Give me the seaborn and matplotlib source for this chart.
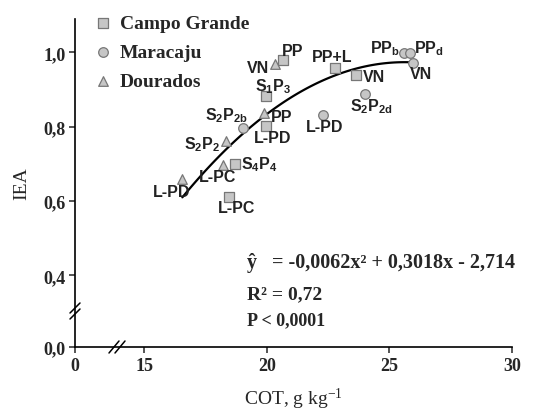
import numpy as np
import pandas as pd
import matplotlib
matplotlib.use("Agg")
import matplotlib.pyplot as plt
import seaborn as sns

# values (COT in g/kg, IEA)
sites = ["Campo Grande", "Maracaju", "Dourados"]

cg_names = ["PP", "S$\\mathregular{_1}$P$\\mathregular{_3}$", "L-PD",
            "S$\\mathregular{_4}$P$\\mathregular{_4}$", "L-PC", "PP+L", "VN"]
cg_cot = [20.64, 19.95, 19.95, 18.70, 18.46, 22.77, 23.65]
cg_iea = [0.980, 0.882, 0.801, 0.700, 0.612, 0.959, 0.939]

mj_names = ["S$\\mathregular{_2}$P$\\mathregular{_{2b}}$", "L-PD",
            "S$\\mathregular{_2}$P$\\mathregular{_{2d}}$",
            "PP$\\mathregular{_b}$", "PP$\\mathregular{_d}$", "VN"]
mj_cot = [19.03, 22.27, 23.99, 25.58, 25.82, 25.96]
mj_iea = [0.797, 0.832, 0.888, 0.998, 0.998, 0.972]

do_names = ["VN", "PP", "S$\\mathregular{_2}$P$\\mathregular{_2}$", "L-PC", "L-PD"]
do_cot = [20.35, 19.89, 18.32, 18.22, 16.55]
do_iea = [0.968, 0.836, 0.762, 0.696, 0.659]

x_ticks = [0, 15, 20, 25, 30]
x_ticklabels = ["0", "15", "20", "25", "30"]
y_ticks = [0.0, 0.4, 0.6, 0.8, 1.0]
y_ticklabels = ["0,0", "0,4", "0,6", "0,8", "1,0"]

eq_lines = ["\u0177   = -0,0062x\u00b2 + 0,3018x - 2,714", "R\u00b2 = 0,72", "P < 0,0001"]

# label placement (pixel offsets, alignment)
cg_pos = [(10, 9, "center"), (7, 11, "center"), (7, -11, "center"), (6, 0, "left"),
          (7, -11, "center"), (-3, 11, "center"), (7, -1, "left")]
mj_pos = [(-17, 13, "center"), (2, -12, "center"), (7, -12, "center"),
          (-4, 6, "right"), (4, 6, "left"), (8, -11, "center")]
do_pos = [(-6, -3, "right"), (7, -3, "left"), (-6, -3, "right"),
          (-6, -11, "center"), (-11, -12, "center")]

df = pd.concat([
    pd.DataFrame({"site": sites[0], "cot": cg_cot, "iea": cg_iea, "name": cg_names}),
    pd.DataFrame({"site": sites[1], "cot": mj_cot, "iea": mj_iea, "name": mj_names}),
    pd.DataFrame({"site": sites[2], "cot": do_cot, "iea": do_iea, "name": do_names}),
], ignore_index=True)
pos = cg_pos + mj_pos + do_pos

sns.set_style("ticks")
plt.rcParams["font.family"] = ["Liberation Serif", "DejaVu Serif"]

# broken axes: squeeze 0-15 on x and 0-0.4 on y
kx = 2.83 / 15
ky = 0.193 / 0.4


def fx(v):
    v = np.asarray(v, dtype=float)
    return np.where(v >= 15, v, 15 - (15 - v) * kx)


def fx_inv(v):
    v = np.asarray(v, dtype=float)
    return np.where(v >= 15, v, 15 - (15 - v) / kx)


def fy(v):
    v = np.asarray(v, dtype=float)
    return np.where(v >= 0.4, v, 0.4 - (0.4 - v) * ky)


def fy_inv(v):
    v = np.asarray(v, dtype=float)
    return np.where(v >= 0.4, v, 0.4 - (0.4 - v) / ky)


fig = plt.figure(figsize=(5.4, 4.14), dpi=100)
ax = fig.add_axes([75 / 540, 66 / 414, 437 / 540, 328 / 414])
ax.set_xscale("function", functions=(fx, fx_inv))
ax.set_yscale("function", functions=(fy, fy_inv))

sns.regplot(data=df, x="cot", y="iea", order=2, ci=None, scatter=False,
            truncate=True, color="black", line_kws=dict(lw=1.6), ax=ax)

markers = {"Campo Grande": "s", "Maracaju": "o", "Dourados": "^"}
for s in sites:
    sub = df[df["site"] == s]
    sns.scatterplot(data=sub, x="cot", y="iea", marker=markers[s], s=48,
                    color="#c6c6c6", edgecolor="#777777", linewidth=0.9,
                    label=s, ax=ax, zorder=3)

for (_, r), (dx, dy, ha) in zip(df.iterrows(), pos):
    ax.annotate(r["name"], (r["cot"], r["iea"]), xytext=(dx, dy),
                textcoords="offset pixels", ha=ha, va="center",
                fontsize=11.5, fontweight="bold", color="#222222",
                family=["Liberation Sans", "DejaVu Sans"])

ax.set_xlim(0, 30)
ax.set_ylim(0, 1.09)
ax.set_xticks(x_ticks)
ax.set_xticklabels(x_ticklabels)
ax.set_yticks(y_ticks)
ax.set_yticklabels(y_ticklabels)
ax.tick_params(direction="out", length=4, width=1.1, labelsize=13, pad=3)
for lab in ax.get_xticklabels() + ax.get_yticklabels():
    lab.set_fontweight("bold")
sns.despine(ax=ax)
for sp in ["left", "bottom"]:
    ax.spines[sp].set_linewidth(1.2)
    ax.spines[sp].set_color("black")

ax.set_xlabel("COT, g kg$\\mathregular{^{-1}}$", fontsize=14, labelpad=9)
ax.set_ylabel("IEA", fontsize=14, labelpad=9)

# break marks
bx = (117 - 75) / 437
for off in (-3, 3):
    ax.plot([bx + (off - 5) / 437, bx + (off + 5) / 437], [-6 / 328, 6 / 328],
            transform=ax.transAxes, color="black", lw=1.1, clip_on=False)
by = (348 - 312) / 328
for off in (-3, 3):
    ax.plot([-5 / 437, 5 / 437], [by + (off - 5) / 328, by + (off + 5) / 328],
            transform=ax.transAxes, color="black", lw=1.1, clip_on=False)

ax.text(247 / 540, 1 - 263 / 414, eq_lines[0], transform=fig.transFigure,
        fontsize=14.5, fontweight="bold", va="center", ha="left")
ax.text(247 / 540, 1 - 295 / 414, eq_lines[1], transform=fig.transFigure,
        fontsize=14, fontweight="bold", va="center", ha="left")
ax.text(247 / 540, 1 - 321 / 414, eq_lines[2], transform=fig.transFigure,
        fontsize=13, fontweight="bold", va="center", ha="left")

leg = ax.legend(loc="upper left", bbox_to_anchor=(85 / 540, 1 - 8 / 414),
                bbox_transform=fig.transFigure, frameon=False, handletextpad=0.4,
                labelspacing=0.58, borderaxespad=0, handlelength=1.0,
                prop=dict(family="Liberation Serif", weight="bold", size=14))

fig.savefig("out.png", dpi=100)
plt.close(fig)
